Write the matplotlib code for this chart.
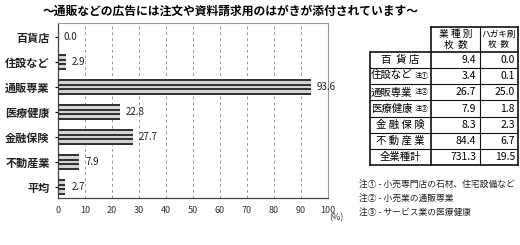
import numpy as np
import matplotlib
matplotlib.use("Agg")
import matplotlib.pyplot as plt
from matplotlib.lines import Line2D

plt.rcParams['font.family'] = ['Noto Sans CJK JP', 'DejaVu Sans']

title = "～通販などの広告には注文や資料請求用のはがきが添付されています～"
categories = ["百貨店", "住設など", "通販専業", "医療健康", "金融保険", "不動産業", "平均"]
values = [0.0, 2.9, 93.6, 22.8, 27.7, 7.9, 2.7]
xticks = [0, 10, 20, 30, 40, 50, 60, 70, 80, 90, 100]

table_header = ["業 種 別\n枚  数", "ハガキ刷\n枚  数"]
table_rows = ["百  貨 店", "住設など", "通販専業", "医療健康", "金 融 保 険", "不 動 産 業", "全業種計"]
table_marks = ["", "注①", "注②", "注③", "", "", ""]
table_col1 = ["9.4", "3.4", "26.7", "7.9", "8.3", "84.4", "731.3"]
table_col2 = ["0.0", "0.1", "25.0", "1.8", "2.3", "6.7", "19.5"]
notes = ["注① - 小売専門店の石材、住宅設備など",
         "注② - 小売業の通販専業",
         "注③ - サービス業の医療健康"]

W, H = 520, 245
fig = plt.figure(figsize=(W / 100, H / 100), dpi=100)
fig.patch.set_facecolor("white")

def fx(px):
    return px / W

def fy(py):
    return 1 - py / H

ax = fig.add_axes([fx(58), fy(198), fx(328) - fx(58), fy(23) - fy(198)])
y = np.arange(len(categories))

# striped bars: light background plus four dark stripes
bar_h = 0.62
ax.barh(y, values, height=bar_h, color="#d4d4d4", zorder=2)
stripe_h = 0.08
for off in np.linspace(-bar_h / 2 + stripe_h / 2, bar_h / 2 - stripe_h / 2, 4):
    ax.barh(y + off, values, height=stripe_h, color="#333333", zorder=3)

for yi, v in zip(y, values):
    ax.text(v + 2.2, yi, f"{v:.1f}", va="center", ha="left", fontsize=7, color="#222")

ax.set_xlim(0, 100)
ax.set_ylim(6.44, -0.56)
ax.set_xticks(xticks)
ax.set_xticklabels([str(t) for t in xticks], fontsize=6.5, color="#333")
ax.set_yticks(y)
ax.set_yticklabels(categories, fontsize=8, fontweight="bold", color="#222")
ax.tick_params(axis="y", length=2, pad=4)
ax.tick_params(axis="x", length=0, pad=6)
ax.grid(axis="x", linestyle=(0, (3, 3)), color="#999999", linewidth=0.7, zorder=0)
for s in ["top", "right"]:
    ax.spines[s].set_color("#999999")
    ax.spines[s].set_linewidth(0.8)
for s in ["left", "bottom"]:
    ax.spines[s].set_color("#444444")
    ax.spines[s].set_linewidth(0.9)

fig.text(fx(336), fy(218), "(%)", fontsize=6.5, ha="center", va="center", color="#333")
fig.text(fx(231), fy(11), title, fontsize=8.5, fontweight="bold", ha="center", va="center")

# table
xl, x1, x2, xr = 370, 431, 480, 518
yt, yh = 27, 52
row_h = (165 - yh) / len(table_rows)

def hline(x0, x1_, yy, lw=0.8):
    fig.add_artist(Line2D([fx(x0), fx(x1_)], [fy(yy), fy(yy)], color="#111", linewidth=lw))

def vline(xx, y0, y1, lw=0.8):
    fig.add_artist(Line2D([fx(xx), fx(xx)], [fy(y0), fy(y1)], color="#111", linewidth=lw))

hline(x1, xr, yt, 1.2)
hline(xl, xr, yh, 1.2)
for i in range(1, len(table_rows)):
    hline(xl, xr, yh + i * row_h, 0.8)
hline(xl, xr, 165, 1.2)
vline(xl, yh, 165, 1.2)
vline(x1, yt, 165, 1.2)
vline(x2, yt, 165, 0.8)
vline(xr, yt, 165, 1.2)

fig.text(fx((x1 + x2) / 2), fy((yt + yh) / 2), table_header[0], fontsize=7,
         ha="center", va="center", linespacing=1.1)
fig.text(fx((x2 + xr) / 2), fy((yt + yh) / 2), table_header[1], fontsize=6.2,
         ha="center", va="center", linespacing=1.1)
for i, (lab, mk, a, b) in enumerate(zip(table_rows, table_marks, table_col1, table_col2)):
    yc = yh + (i + 0.5) * row_h
    if mk:
        fig.text(fx(xl + 1), fy(yc), lab, fontsize=7.5, ha="left", va="center")
        fig.text(fx(x1 - 2), fy(yc), mk, fontsize=5, ha="right", va="center")
    else:
        fig.text(fx((xl + x1) / 2), fy(yc), lab, fontsize=7.5, ha="center", va="center")
    fig.text(fx(x2 - 4), fy(yc), a, fontsize=7.5, ha="right", va="center")
    fig.text(fx(xr - 3), fy(yc), b, fontsize=7.5, ha="right", va="center")

for i, n in enumerate(notes):
    fig.text(fx(359), fy(184 + i * 14), n, fontsize=6.3, ha="left", va="center", color="#222")

fig.savefig("out.png", dpi=100)
